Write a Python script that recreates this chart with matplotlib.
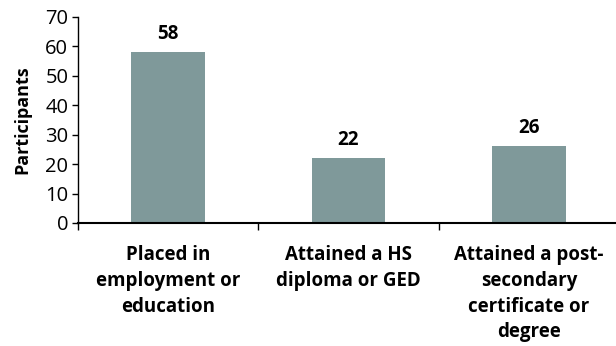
import matplotlib.pyplot as plt
import numpy as np

categories = ["Placed in\nemployment or\neducation",
              "Attained a HS\ndiploma or GED",
              "Attained a post-\nsecondary\ncertificate or\ndegree"]
values = [58, 22, 26]

plt.rcParams['font.family'] = ['Open Sans', 'DejaVu Sans']

fig = plt.figure(figsize=(6.16, 3.46), dpi=100)
ax = fig.add_axes([78 / 616, (346 - 223) / 346, 541 / 616, 206 / 346])

x = np.arange(len(categories))
bars = ax.bar(x, values, width=0.41, color='#7f999a')

for bar in bars:
    h = bar.get_height()
    ax.annotate(f'{h:g}', xy=(bar.get_x() + bar.get_width() / 2, h),
                xytext=(0, 6), textcoords='offset points',
                ha='center', va='bottom', fontsize=13.5, fontweight='bold')

ax.set_xlim(-0.5, 2.5)
ax.set_ylim(0, 70)
ax.set_yticks(range(0, 71, 10))
ax.tick_params(axis='y', labelsize=14.5, length=4, width=1, pad=3)

# category boundaries as major ticks, labels on minor ticks
ax.set_xticks([-0.5, 0.5, 1.5, 2.5])
ax.set_xticklabels([])
ax.tick_params(axis='x', which='major', length=5, width=1)
ax.set_xticks(x, minor=True)
ax.set_xticklabels(categories, minor=True, fontsize=13.5, fontweight='bold',
                   linespacing=1.38, va='top')
ax.tick_params(axis='x', which='minor', length=0, pad=16)

ax.set_ylabel('Participants', fontsize=13, fontweight='bold', labelpad=10)

for side in ['top', 'right']:
    ax.spines[side].set_visible(False)
ax.spines['bottom'].set_linewidth(1.5)
ax.spines['left'].set_linewidth(1)

plt.savefig('out.png', dpi=100)
